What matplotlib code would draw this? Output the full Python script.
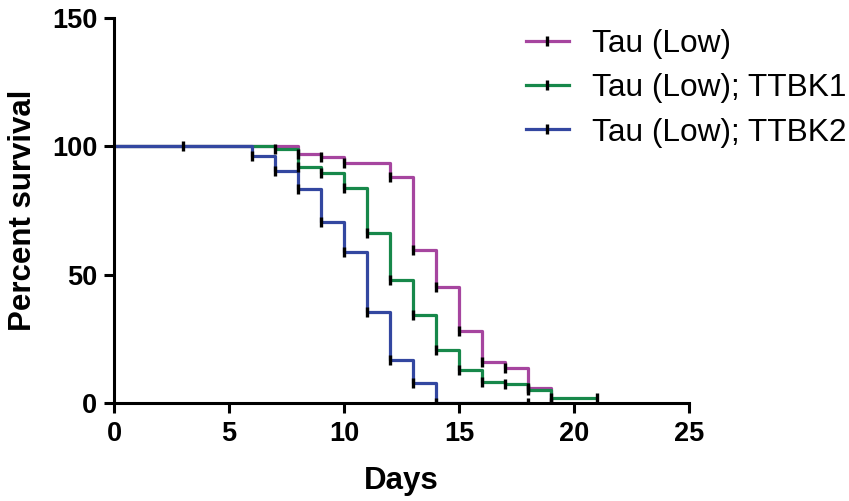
import matplotlib
matplotlib.use("Agg")
import matplotlib.pyplot as plt
from matplotlib.lines import Line2D

plt.rcParams['font.family'] = ['Liberation Sans', 'DejaVu Sans']

# survival data (percent survival per day)
labels = ["Tau (Low)", "Tau (Low); TTBK1", "Tau (Low); TTBK2"]
colors = ["#A6459F", "#17884A", "#3347A0"]

days_low = [0, 8, 9, 10, 12, 13, 14, 15, 16, 17, 18, 19]
surv_low = [100, 97.0, 96.0, 93.5, 87.9, 59.8, 45.2, 27.9, 15.8, 13.6, 5.7, 0]

days_ttbk1 = [0, 7, 8, 9, 10, 11, 12, 13, 14, 15, 16, 17, 18, 19, 21]
surv_ttbk1 = [100, 98.8, 91.8, 89.8, 83.7, 66.4, 48.1, 34.1, 20.5, 12.7, 8.3, 7.3, 5.1, 2.1, 2.1]

days_ttbk2 = [0, 6, 7, 8, 9, 10, 11, 12, 13, 14, 18]
surv_ttbk2 = [100, 96.1, 90.2, 83.3, 70.5, 58.9, 35.3, 16.8, 7.9, 0, 0]

censor_day = 3  # shared censor mark at 100 %

series = [(days_low, surv_low), (days_ttbk1, surv_ttbk1), (days_ttbk2, surv_ttbk2)]

fig = plt.figure(figsize=(8.49, 5.01), dpi=100)
ax = fig.add_axes([114 / 849, 1 - 403 / 501, 575 / 849, 385 / 501])

lw = 2.3
for (d, s), c in zip(series, colors):
    ax.step(d, s, where="post", color=c, lw=lw, solid_capstyle="butt", zorder=2)

# censor ticks
for d, s in series:
    ax.plot(d[1:], s[1:], ls="none", marker="|", ms=7.5, mew=2.4, color="black", zorder=3)
ax.plot([censor_day], [100], ls="none", marker="|", ms=7.5, mew=2.4, color="black", zorder=3)

ax.set_xlim(0, 25)
ax.set_ylim(0, 150)
ax.set_xticks([0, 5, 10, 15, 20, 25])
ax.set_yticks([0, 50, 100, 150])

for side in ["top", "right"]:
    ax.spines[side].set_visible(False)
for side in ["left", "bottom"]:
    ax.spines[side].set_linewidth(2.2)
ax.tick_params(width=2.2, length=7, labelsize=19.5, pad=5)
ax.tick_params(axis="x", pad=6)
for t in ax.get_xticklabels() + ax.get_yticklabels():
    t.set_fontweight("bold")

ax.set_xlabel("Days", fontsize=22.5, fontweight="bold", labelpad=14)
ax.set_ylabel("Percent survival", fontsize=22.5, fontweight="bold", labelpad=10)

handles = [Line2D([0], [0], color=c, lw=lw, marker="|", ms=7.5, mew=2.4, mec="black")
           for c in colors]
fig.legend(handles, labels, loc="upper left", bbox_to_anchor=(526 / 849, 1 - 29 / 501),
           frameon=False, fontsize=22.8, borderpad=0, borderaxespad=0,
           handlelength=1.35, handletextpad=0.72, labelspacing=0.45, numpoints=1)

fig.savefig("out.png", dpi=100)
